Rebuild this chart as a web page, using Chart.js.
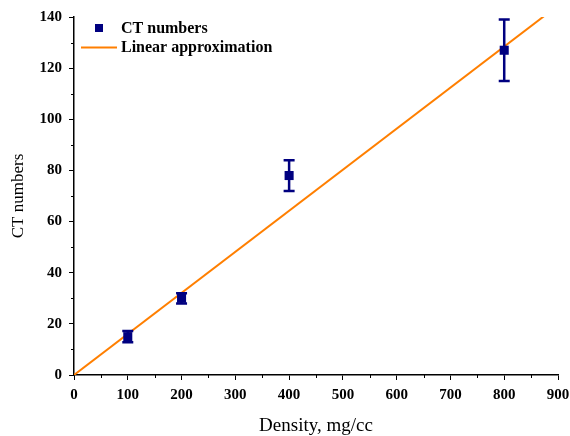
<!DOCTYPE html>
<html>
<head>
<meta charset="utf-8">
<script src="https://cdn.jsdelivr.net/npm/chart.js@4"></script>
<style>
  body { margin: 0; background: #fff; }
  #wrap { width: 570px; height: 436px; }
</style>
</head>
<body>
<div id="wrap"><canvas id="ctChart" width="570" height="436"></canvas></div>
<script>
// measured points
const density = [100, 200, 400, 800];
const ctNumbers = [15, 30, 78, 127];
const ctErrors = [2.2, 2, 6, 12];

// fitted line through origin
const fitX = [0, 900];
const fitY = [0, 144.5];

const xTicks = [0, 100, 200, 300, 400, 500, 600, 700, 800, 900];
const yTicks = [0, 20, 40, 60, 80, 100, 120, 140];

const navy = '#000080';
const orange = '#ff7f00';

const errorBars = {
    id: 'errorBars',
    afterDatasetsDraw(chart) {
        const ctx = chart.ctx;
        const xs = chart.scales.x, ys = chart.scales.y;
        ctx.save();
        ctx.strokeStyle = navy;
        ctx.lineWidth = 2.5;
        density.forEach((d, i) => {
            const px = xs.getPixelForValue(d);
            const top = ys.getPixelForValue(ctNumbers[i] + ctErrors[i]);
            const bot = ys.getPixelForValue(ctNumbers[i] - ctErrors[i]);
            ctx.beginPath();
            ctx.moveTo(px, top); ctx.lineTo(px, bot);
            ctx.moveTo(px - 5.5, top); ctx.lineTo(px + 5.5, top);
            ctx.moveTo(px - 5.5, bot); ctx.lineTo(px + 5.5, bot);
            ctx.stroke();
        });
        ctx.restore();
    }
};

const minorTicks = {
    id: 'minorTicks',
    afterDraw(chart) {
        const ctx = chart.ctx;
        const xs = chart.scales.x, ys = chart.scales.y;
        const area = chart.chartArea;
        ctx.save();
        ctx.strokeStyle = '#000';
        ctx.lineWidth = 1;
        ctx.beginPath();
        for (let v = 50; v < 900; v += 100) {
            const px = Math.round(xs.getPixelForValue(v)) + 0.5;
            ctx.moveTo(px, area.bottom); ctx.lineTo(px, area.bottom + 3);
        }
        for (let v = 10; v < 140; v += 20) {
            const py = Math.round(ys.getPixelForValue(v)) + 0.5;
            ctx.moveTo(area.left - 3, py); ctx.lineTo(area.left, py);
        }
        ctx.stroke();

        // legend inside the plot
        ctx.fillStyle = navy;
        ctx.fillRect(95, 24, 8, 8);
        ctx.strokeStyle = orange;
        ctx.lineWidth = 2;
        ctx.beginPath();
        ctx.moveTo(81, 47.5); ctx.lineTo(117, 47.5);
        ctx.stroke();
        ctx.fillStyle = '#000';
        ctx.font = 'bold 16px "Liberation Serif"';
        ctx.textBaseline = 'middle';
        ctx.fillText('CT numbers', 121, 29);
        ctx.fillText('Linear approximation', 121, 48);
        ctx.restore();
    }
};

new Chart(document.getElementById('ctChart'), {
    type: 'scatter',
    data: {
        datasets: [{
            label: 'CT numbers',
            data: density.map((d, i) => ({ x: d, y: ctNumbers[i] })),
            pointStyle: 'rect',
            pointRadius: 6.4,
            backgroundColor: navy,
            borderColor: navy,
            borderWidth: 0
        }, {
            label: 'Linear approximation',
            type: 'line',
            data: fitX.map((d, i) => ({ x: d, y: fitY[i] })),
            borderColor: orange,
            borderWidth: 2,
            pointRadius: 0,
            fill: false
        }]
    },
    options: {
        responsive: false,
        animation: false,
        layout: { padding: { top: 17, right: 0, left: 0, bottom: 0 } },
        plugins: {
            legend: { display: false },
            tooltip: { enabled: false }
        },
        scales: {
            x: {
                type: 'linear',
                min: 0, max: 900,
                afterFit(scale) {
                    scale.height = 61;
                    scale.paddingRight = 12;
                    scale.paddingLeft = 0;
                },
                afterBuildTicks(scale) { scale.ticks = xTicks.map(v => ({ value: v })); },
                border: { color: '#000', width: 1.5 },
                grid: { drawOnChartArea: false, drawTicks: true, tickLength: 5, color: '#000' },
                ticks: {
                    padding: 6,
                    color: '#000',
                    font: { family: 'Liberation Serif', size: 15, weight: 'bold' }
                },
                title: {
                    display: true,
                    text: 'Density, mg/cc',
                    color: '#000',
                    padding: 0,
                    font: { family: 'Liberation Serif', size: 19, lineHeight: 1 }
                }
            },
            y: {
                type: 'linear',
                min: 0, max: 140,
                afterFit(scale) { scale.width = 74; },
                afterBuildTicks(scale) { scale.ticks = yTicks.map(v => ({ value: v })); },
                border: { color: '#000', width: 1.5 },
                grid: { drawOnChartArea: false, drawTicks: true, tickLength: 5, color: '#000' },
                ticks: {
                    padding: 7,
                    color: '#000',
                    font: { family: 'Liberation Serif', size: 15, weight: 'bold' }
                },
                title: {
                    display: true,
                    text: 'CT numbers',
                    color: '#000',
                    padding: { top: 8 },
                    font: { family: 'Liberation Serif', size: 17 }
                }
            }
        }
    },
    plugins: [errorBars, minorTicks]
});
</script>
</body>
</html>
